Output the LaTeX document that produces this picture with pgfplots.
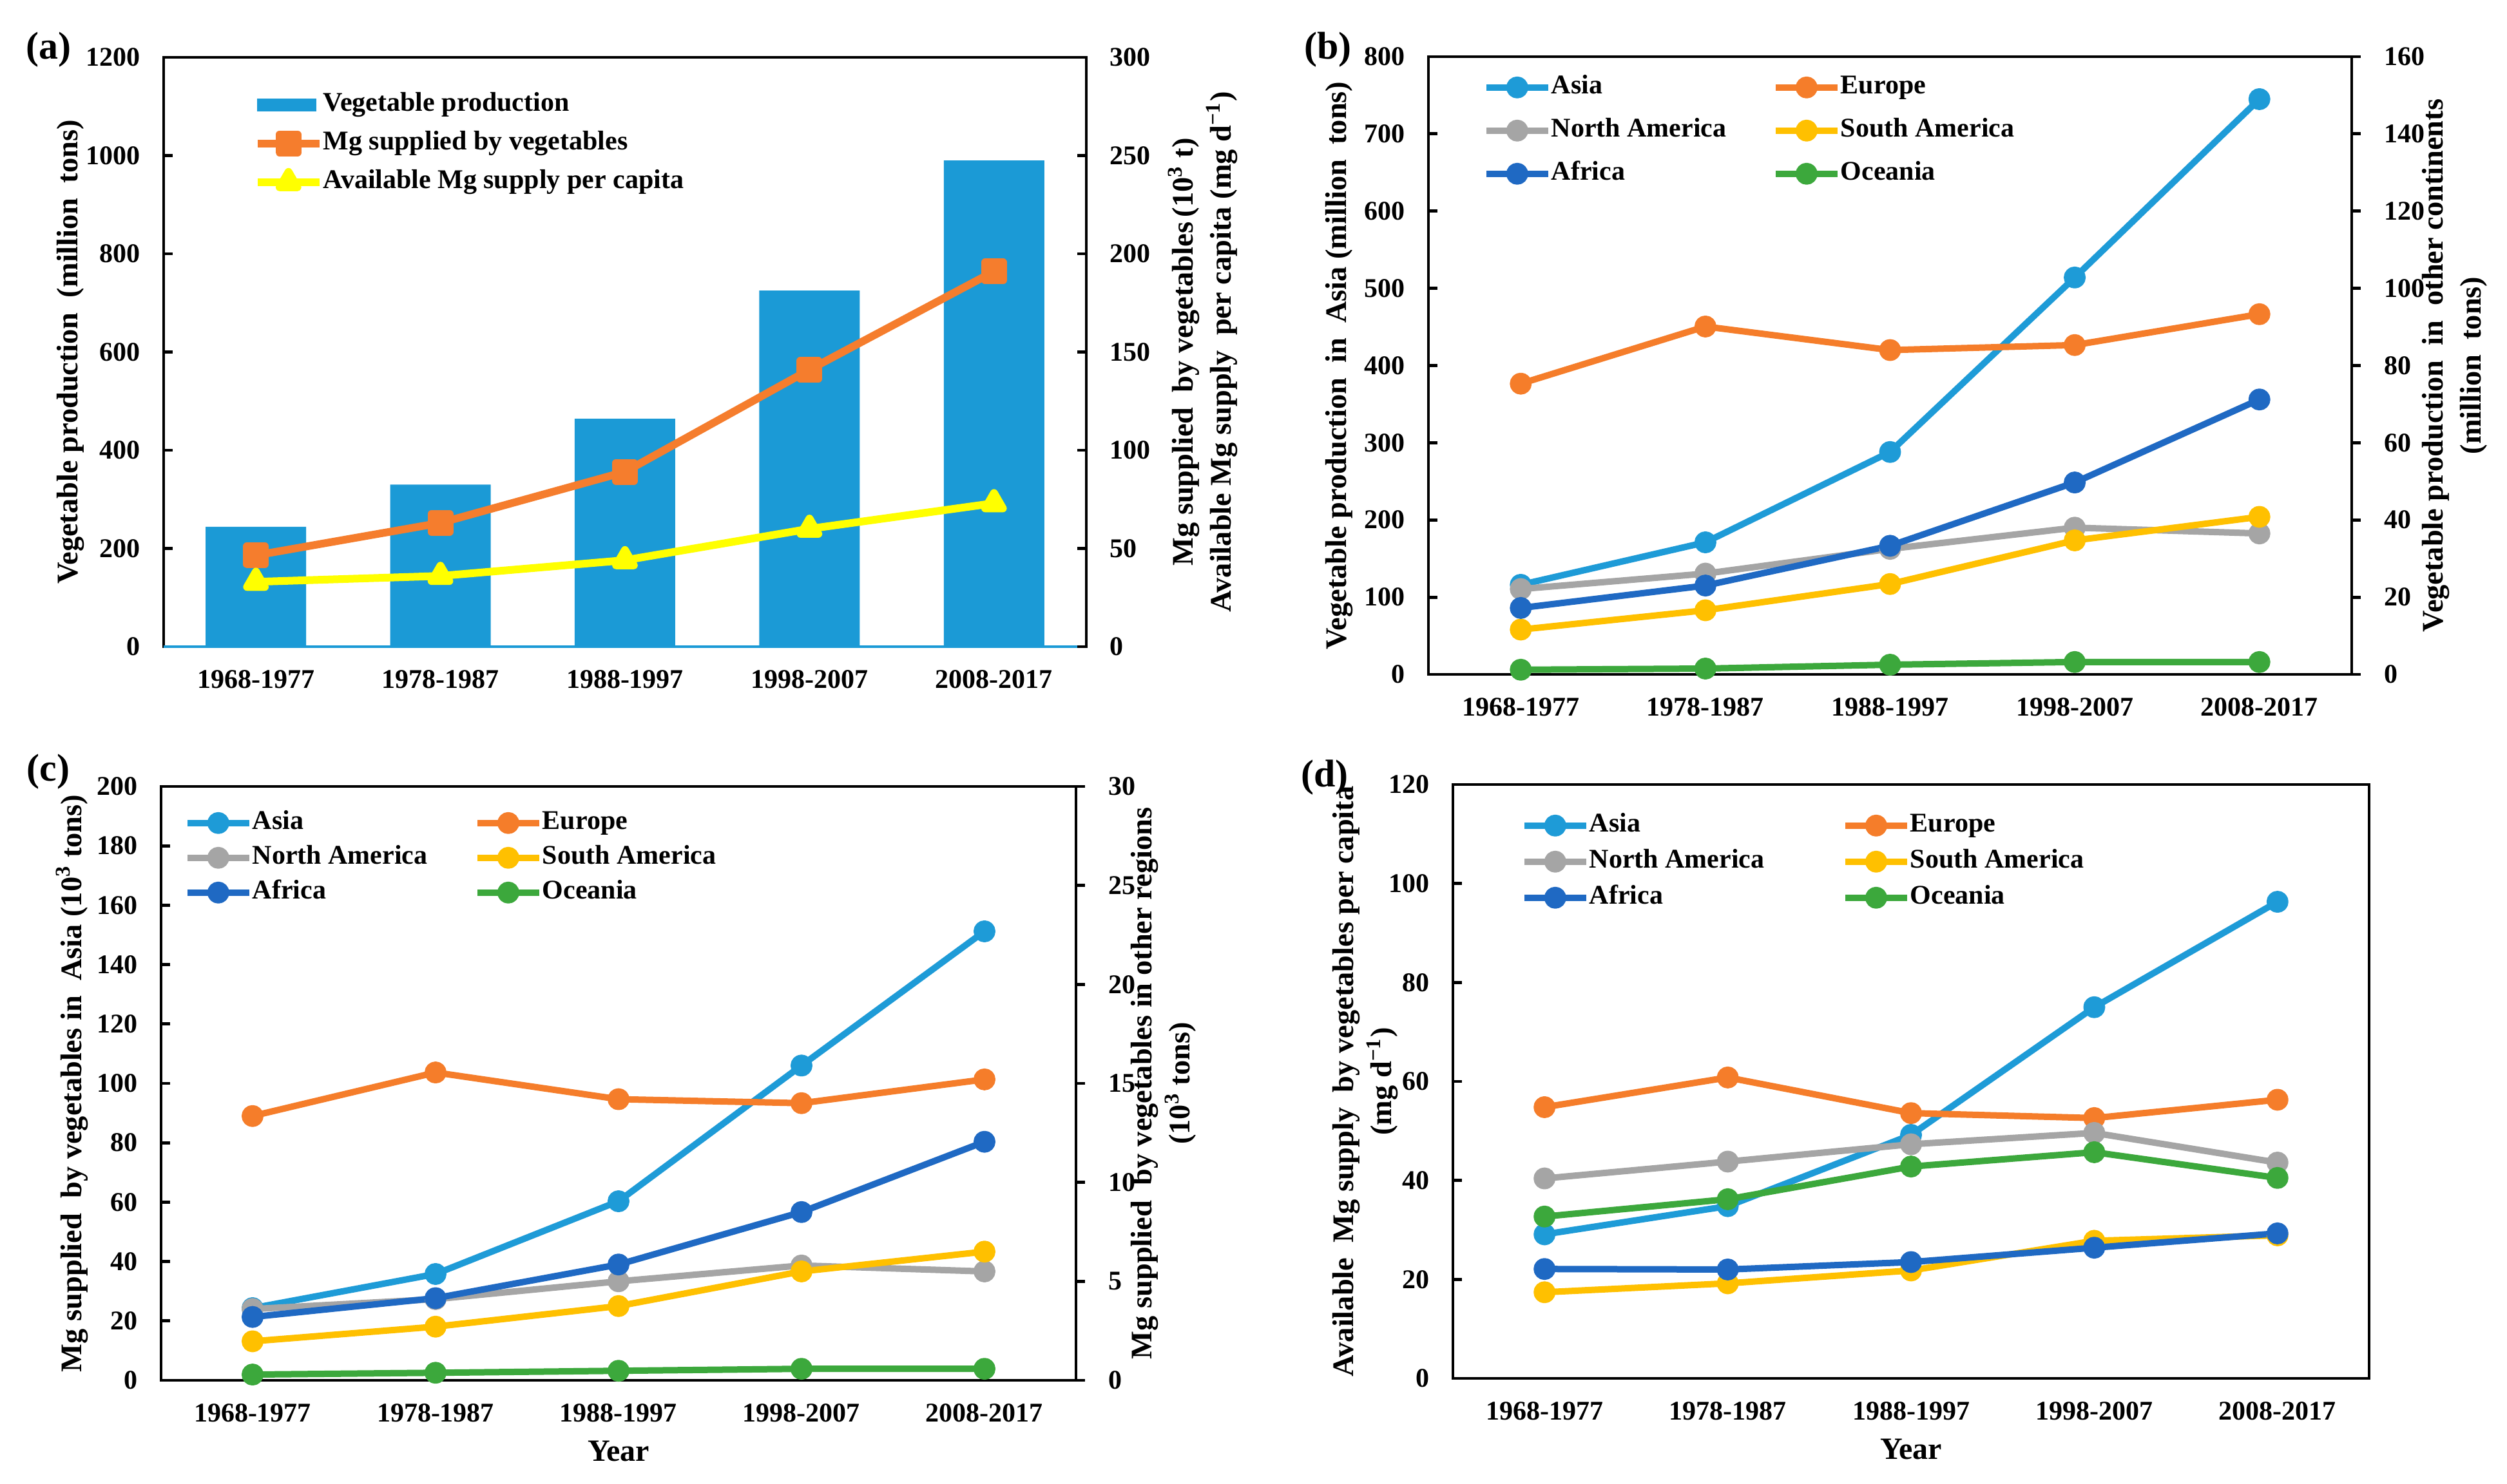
\documentclass[border=0pt]{standalone}
\usepackage{fontspec}
\setmainfont{Liberation Serif}
\usepackage{pgfplots}
\pgfplotsset{compat=1.18}

\definecolor{barblue}{RGB}{27,154,214}
\definecolor{aorange}{RGB}{245,125,45}
\definecolor{ayellow}{RGB}{255,255,0}
\definecolor{casia}{RGB}{30,155,215}
\definecolor{ceurope}{RGB}{245,125,42}
\definecolor{cnam}{RGB}{165,165,165}
\definecolor{csam}{RGB}{255,192,0}
\definecolor{cafrica}{RGB}{31,105,195}
\definecolor{coceania}{RGB}{60,168,60}

\newcommand\tfont{\fontsize{10.5}{12}\selectfont\bfseries}
\newcommand\lfont{\fontsize{11.6}{14.75}\selectfont\bfseries}

\pgfplotsset{
  panel/.style={
    scale only axis, clip=false,
    xmin=-0.5, xmax=4.5,
    xtick={0,1,2,3,4},
    xticklabels={1968-1977,1978-1987,1988-1997,1998-2007,2008-2017},
    major x tick style={draw=none},
    axis line style={line width=1.2pt, black},
    major y tick style={line width=1.2pt, black},
    major tick length=3.5pt,
    tick align=inside,
    /pgf/number format/assume math mode=true,
    /pgf/number format/1000 sep={},
    tick label style={font=\tfont},
    xticklabel style={yshift=-5.7pt},
    every axis y label/.style={anchor=center, align=center, rotate=90, font=\lfont},
    every axis x label/.style={at={([yshift=-27.5pt]rel axis cs:0.5,0)}, anchor=center,
      font=\fontsize{12}{14}\selectfont\bfseries},
    legend cell align=left,
    legend image code/.code={\draw[mark repeat=2, mark phase=2]
      plot coordinates {(0pt,0pt)(12pt,0pt)(24pt,0pt)};},
  },
  leftax/.style={ytick pos=left, yticklabel style={xshift=-5.5pt},
    ylabel style={at={([xshift=-#1]rel axis cs:0,0.5)}}},
  rightax/.style={axis y line*=right, axis x line=none, ytick pos=right,
    yticklabel style={xshift=5.5pt},
    ylabel style={at={([xshift=#1]rel axis cs:1,0.5)}}},
  lgd/.style n args={4}{legend style={draw=none, fill=none, inner sep=0pt,
    font=\tfont, at={(rel axis cs:0,1)}, anchor=north west,
    xshift=#1, yshift=#2, row sep=#3,
    nodes={inner sep=0pt, text height=7.5pt, text depth=2.5pt},
    /tikz/column 1/.style={column sep=0pt},
    /tikz/column 2/.style={column sep=#4},
    /tikz/column 3/.style={column sep=0pt}}},
  series/.style={color=#1, line width=2.5pt, mark=*, mark size=3pt,
    line join=round, mark options={solid}},
}

\begin{document}
\begin{tikzpicture}
\useasboundingbox (0,0) rectangle (972.75pt,576pt);
\tikzset{font=\tfont}

% ---------------- (a)
\begin{axis}[panel, leftax=36pt, width=358pt, height=228.75pt,
  at={(63.5pt,325pt)}, anchor=south west,
  ymin=0, ymax=1200, ytick={0,200,...,1200},
  ylabel={Vegetable production\ \ (million\ \ tons)}]
\addplot[ybar, bar width=39pt, bar shift=0pt, fill=barblue, draw=none]
  coordinates {(0,244) (1,330) (2,464) (3,725) (4,990)};
\draw[barblue, line width=1.2pt] (rel axis cs:0,0) -- (rel axis cs:1,0);
\end{axis}
\begin{axis}[panel, rightax=45.25pt, width=358pt, height=228.75pt,
  at={(63.5pt,325pt)}, anchor=south west,
  ymin=0, ymax=300, ytick={0,50,...,300},
  ylabel={Mg supplied\ \ by vegetables\,(10\textsuperscript{3} t)\\Available Mg supply\ \ per capita (mg d\textsuperscript{−1})},
  lgd={34.75pt}{-13.25pt}{5pt}{0pt}]
\addlegendimage{legend image code/.code={\fill[barblue] (0pt,-2.25pt) rectangle (22.5pt,2.25pt);}}
\addlegendentry{Vegetable production}
\addplot[color=aorange, line width=3pt, mark=square*, mark size=3.5pt, line join=round]
  coordinates {(0,46.5) (1,63) (2,89) (3,141) (4,191)};
\addlegendentry{Mg supplied by vegetables}
\addplot[color=ayellow, line width=3pt, mark=triangle*, mark size=4pt, line join=round]
  coordinates {(0,33) (1,36) (2,44) (3,60) (4,73)};
\addlegendentry{Available Mg supply per capita}
\end{axis}
\node at (18.75pt,556.75pt) {\fontsize{15}{17}\selectfont\bfseries (a)};

% ---------------- (b)
\begin{axis}[panel, leftax=34.5pt, width=358.25pt, height=239.75pt,
  at={(554.25pt,314.25pt)}, anchor=south west,
  ymin=0, ymax=800, ytick={0,100,...,800},
  ylabel={Vegetable production\ \ in\ \ Asia (million\ \ tons)}]
\addplot[series=casia] coordinates {(0,116) (1,171) (2,288) (3,514) (4,745)};
\end{axis}
\begin{axis}[panel, rightax=39.9pt, width=358.25pt, height=239.75pt,
  at={(554.25pt,314.25pt)}, anchor=south west, tick align=outside,
  ymin=0, ymax=160, ytick={0,20,...,160},
  ylabel={Vegetable production\ \ in\ \ other continents\\(million\ \ tons)},
  legend columns=2, lgd={21pt}{-6.75pt}{6.75pt}{17.85pt}]
\addlegendimage{series=casia}
\addlegendentry{Asia}
\addplot[series=ceurope] coordinates {(0,75.3) (1,90.1) (2,84.0) (3,85.3) (4,93.3)};
\addlegendentry{Europe}
\addplot[series=cnam] coordinates {(0,22.1) (1,26.1) (2,32.5) (3,38.0) (4,36.5)};
\addlegendentry{North America}
\addplot[series=csam] coordinates {(0,11.6) (1,16.6) (2,23.4) (3,34.7) (4,40.8)};
\addlegendentry{South America}
\addplot[series=cafrica] coordinates {(0,17.2) (1,23.0) (2,33.3) (3,49.7) (4,71.2)};
\addlegendentry{Africa}
\addplot[series=coceania] coordinates {(0,1.2) (1,1.5) (2,2.5) (3,3.2) (4,3.2)};
\addlegendentry{Oceania}
\end{axis}
\node at (515.25pt,556.75pt) {\fontsize{15}{17}\selectfont\bfseries (b)};

% ---------------- (c)
\begin{axis}[panel, leftax=34.5pt, width=355pt, height=230.5pt,
  at={(62.5pt,40.25pt)}, anchor=south west,
  ymin=0, ymax=200, ytick={0,20,...,200},
  xlabel={Year},
  ylabel={Mg supplied\ \ by vegetables in\ \ Asia (10\textsuperscript{3} tons)}]
\addplot[series=casia] coordinates {(0,24.3) (1,35.8) (2,60.3) (3,106) (4,151.2)};
\end{axis}
\begin{axis}[panel, rightax=34pt, width=355pt, height=230.5pt,
  at={(62.5pt,40.25pt)}, anchor=south west, tick align=outside,
  ymin=0, ymax=30, ytick={0,5,...,30},
  ylabel={Mg supplied\ \ by vegetables in other regions\\(10\textsuperscript{3} tons)},
  legend columns=2, lgd={8.75pt}{-9pt}{3.5pt}{18.1pt}]
\addlegendimage{series=casia}
\addlegendentry{Asia}
\addplot[series=ceurope] coordinates {(0,13.35) (1,15.55) (2,14.2) (3,14.0) (4,15.2)};
\addlegendentry{Europe}
\addplot[series=cnam] coordinates {(0,3.6) (1,4.1) (2,5.0) (3,5.8) (4,5.5)};
\addlegendentry{North America}
\addplot[series=csam] coordinates {(0,1.97) (1,2.71) (2,3.75) (3,5.5) (4,6.5)};
\addlegendentry{South America}
\addplot[series=cafrica] coordinates {(0,3.2) (1,4.15) (2,5.85) (3,8.5) (4,12.05)};
\addlegendentry{Africa}
\addplot[series=coceania] coordinates {(0,0.29) (1,0.38) (2,0.48) (3,0.58) (4,0.58)};
\addlegendentry{Oceania}
\end{axis}
\node at (18.75pt,276.5pt) {\fontsize{15}{17}\selectfont\bfseries (c)};

% ---------------- (d)
\begin{axis}[panel, leftax=34pt, width=355.5pt, height=230.5pt,
  at={(563.75pt,41pt)}, anchor=south west,
  ymin=0, ymax=120, ytick={0,20,...,120},
  xlabel={Year},
  ylabel={Available\ \ Mg supply\ \ by vegetables per capita\\(mg d\textsuperscript{−1})},
  legend columns=2, lgd={26.25pt}{-10.75pt}{4pt}{30.1pt}]
\addplot[series=casia] coordinates {(0,29.1) (1,34.8) (2,49.2) (3,75.0) (4,96.3)};
\addlegendentry{Asia}
\addplot[series=ceurope] coordinates {(0,54.8) (1,60.8) (2,53.6) (3,52.6) (4,56.3)};
\addlegendentry{Europe}
\addplot[series=cnam] coordinates {(0,40.4) (1,43.8) (2,47.3) (3,49.6) (4,43.6)};
\addlegendentry{North America}
\addplot[series=csam] coordinates {(0,17.4) (1,19.2) (2,21.8) (3,27.8) (4,28.9)};
\addlegendentry{South America}
\addplot[series=cafrica] coordinates {(0,22.1) (1,22.0) (2,23.5) (3,26.4) (4,29.3)};
\addlegendentry{Africa}
\addplot[series=coceania] coordinates {(0,32.7) (1,36.2) (2,42.8) (3,45.7) (4,40.5)};
\addlegendentry{Oceania}
\end{axis}
\node at (514pt,274.25pt) {\fontsize{15}{17}\selectfont\bfseries (d)};
\end{tikzpicture}
\end{document}
